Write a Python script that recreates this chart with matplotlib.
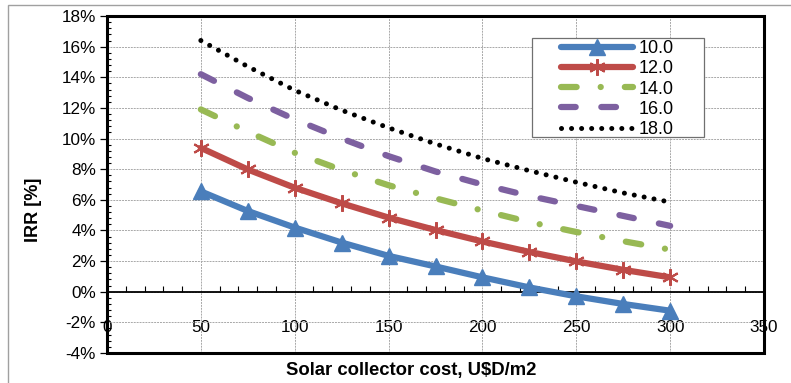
import matplotlib
matplotlib.use("Agg")
import matplotlib.pyplot as plt
from matplotlib.patches import Rectangle
from matplotlib.ticker import MultipleLocator

plt.rcParams['font.family'] = ['Liberation Sans', 'DejaVu Sans']

# collector cost, U$D/m2
cost = [50, 75, 100, 125, 150, 175, 200, 225, 250, 275, 300]

# IRR in % for each series
irr_10 = [6.55, 5.27, 4.19, 3.21, 2.34, 1.65, 0.94, 0.28, -0.30, -0.80, -1.24]
irr_12 = [9.39, 7.98, 6.79, 5.77, 4.84, 4.03, 3.28, 2.60, 1.98, 1.43, 0.94]
irr_14 = [11.90, 10.45, 9.07, 7.95, 6.95, 6.10, 5.30, 4.55, 3.90, 3.30, 2.75]
irr_16 = [14.20, 12.65, 11.25, 10.00, 8.85, 7.85, 7.00, 6.25, 5.60, 4.95, 4.30]
irr_18 = [16.40, 14.70, 13.15, 11.85, 10.70, 9.65, 8.70, 7.90, 7.15, 6.45, 5.85]

labels = ["10.0", "12.0", "14.0", "16.0", "18.0"]
y_ticks = [-4, -2, 0, 2, 4, 6, 8, 10, 12, 14, 16, 18]
x_ticks = [0, 50, 100, 150, 200, 250, 300, 350]

W, H = 791, 383
fig = plt.figure(figsize=(W / 100, H / 100), dpi=100)
ax = fig.add_axes([107 / W, 1 - 353 / H, (764 - 107) / W, (353 - 16) / H])

# outer chart border
fig.add_artist(Rectangle((8 / W, -0.1), 1.2, 1 - 5 / H + 0.1, transform=fig.transFigure,
                         fill=False, ec='#a0a0a0', lw=1.0))

lw = 4.5
ax.plot(cost, irr_10, color='#4a7ebb', lw=lw, marker='^', ms=11, label=labels[0],
        solid_capstyle='round', zorder=3)
ax.plot(cost, irr_12, color='#be4b48', lw=lw, marker=(6, 2, 0), ms=12, mew=1.5,
        label=labels[1], solid_capstyle='round', zorder=3)
ax.plot(cost, irr_14, color='#98b954', lw=lw, dashes=(2.5, 3.85, 0.01, 3.85),
        dash_capstyle='round', label=labels[2], zorder=3)
ax.plot(cost, irr_16, color='#7d60a0', lw=lw, dashes=(2.35, 4.1),
        dash_capstyle='round', label=labels[3], zorder=3)
ax.plot(cost, irr_18, color='black', lw=3.6, dashes=(0.01, 2.0),
        dash_capstyle='round', label=labels[4], zorder=3)

ax.set_xlim(0, 350)
ax.set_ylim(-4, 18)
ax.set_xticks(x_ticks)
ax.set_xticklabels([str(v) for v in x_ticks])
ax.set_yticks(y_ticks)
ax.set_yticklabels([f"{v}%" for v in y_ticks])
ax.xaxis.set_minor_locator(MultipleLocator(10))
ax.yaxis.set_minor_locator(MultipleLocator(0.4))

ax.grid(True, which='major', color='#a8a8a8', lw=0.7, ls=(0, (2, 1)))
ax.set_axisbelow(True)

for s in ['left', 'right', 'top']:
    ax.spines[s].set_visible(False)
ax.spines['bottom'].set_position(('data', 0))
ax.spines['bottom'].set_linewidth(1.3)
ax.add_patch(Rectangle((0, 0), 1, 1, transform=ax.transAxes, fill=False,
                       ec='black', lw=2.2, clip_on=False, zorder=5))

ax.tick_params(axis='x', which='major', length=0, pad=20, labelsize=12.3)
ax.tick_params(axis='x', which='minor', direction='in', length=4, width=0.8)
ax.tick_params(axis='y', which='major', direction='out', length=5, width=0.9,
               labelsize=12.3, pad=3)
ax.tick_params(axis='y', which='minor', direction='in', length=3, width=0.8)

fig.text(34 / W, 1 - 210 / H, "IRR [%]", rotation=90, ha='center', va='center',
         fontsize=13, fontweight='bold')
fig.text(411 / W, 1 - 370 / H, "Solar collector cost, U$D/m2", ha='center',
         va='center', fontsize=13.3, fontweight='bold')

# legend box drawn separately so its padding can match
ax.add_artist(Rectangle((532 / W, 1 - 137 / H), (704 - 532) / W, (137 - 38) / H,
                        transform=fig.transFigure, fill=True, fc='white',
                        ec='#707070', lw=0.9, zorder=6, clip_on=False))
leg = ax.legend(loc='upper left', bbox_to_anchor=(561 / W, 1 - 40 / H),
                bbox_transform=fig.transFigure, frameon=False, fontsize=13,
                handlelength=4.0, handletextpad=0.3, labelspacing=0.18,
                borderpad=0, borderaxespad=0, numpoints=1)
leg.set_zorder(7)

fig.savefig("out.png", dpi=100)
